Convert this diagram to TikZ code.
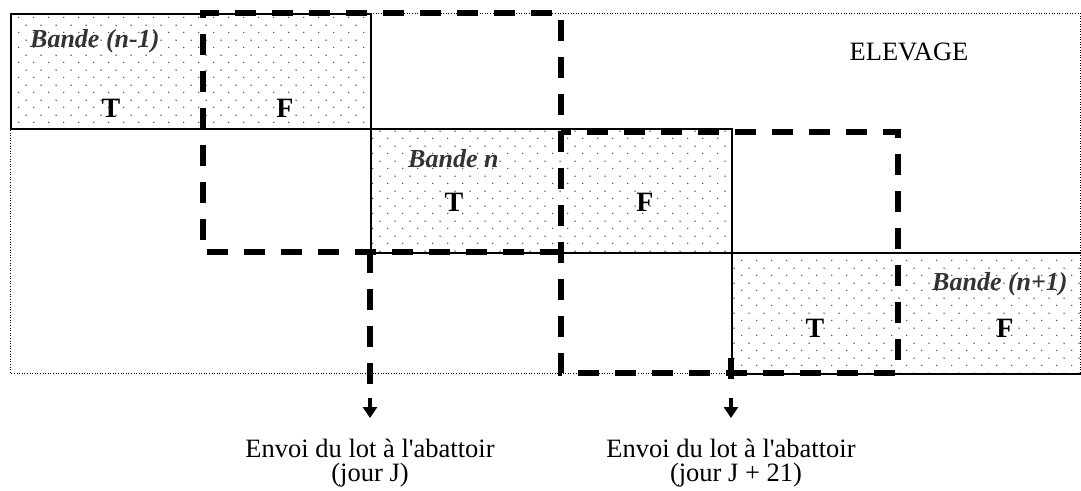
\documentclass[tikz,border=0pt]{standalone}
\usepackage{fontspec}
\setmainfont{Liberation Serif}
\usetikzlibrary{arrows.meta,patterns}
\pgfdeclarepatternformonly{banddots}{\pgfqpoint{0pt}{0pt}}{\pgfqpoint{15.4pt}{15.2pt}}{\pgfqpoint{15.4pt}{15.2pt}}{%
  \pgfpathcircle{\pgfqpoint{3.8pt}{3.8pt}}{0.8pt}%
  \pgfpathcircle{\pgfqpoint{11.5pt}{11.4pt}}{0.8pt}%
  \pgfusepath{fill}}
\definecolor{dotgray}{HTML}{444444}
\definecolor{labgray}{HTML}{333333}
\begin{document}
\begin{tikzpicture}[x=1pt,y=-1pt,
  band/.style={draw=black,line width=2pt,pattern=banddots,pattern color=dotgray,inner sep=0pt,anchor=north west},
  frame/.style={draw=black,line width=1pt,dash pattern=on 1pt off 1.6pt},
  lot/.style={draw=black,line width=5.5pt,dash pattern=on 21pt off 16pt},
  ship/.style={draw=black,line width=4pt,-{Triangle[width=14pt,length=11pt]}},
  txt/.style={font=\fontsize{26.5}{30}\selectfont,inner sep=0pt,anchor=base},
  tf/.style={font=\fontsize{28}{30}\selectfont\bfseries,inner sep=0pt,anchor=base},
  bande/.style={font=\fontsize{26}{30}\selectfont\bfseries\itshape,text=labgray,inner sep=0pt,anchor=base west}]
\useasboundingbox (0,0) rectangle (1081,490);
% outer dotted frame
\draw[frame] (10,13) rectangle (1080,373);
% bands
\node[band,minimum width=360pt,minimum height=115pt] (b1) at (10,13) {};
\node[band,minimum width=361pt,minimum height=124pt] (b2) at (370,128) {};
\node[band,minimum width=352pt,minimum height=121pt] (b3) at (731,252) {};
% labels in bands
\node[bande] (l1) at (30,47) {Bande (n-1)};
\node[bande] (l2) at (408,167) {Bande n};
\node[bande] (l3) at (932,290) {Bande (n+1)};
\node[tf] (t1) at (111,117) {T};
\node[tf] (f1) at (285,117) {F};
\node[tf] (t2) at (454,211) {T};
\node[tf] (f2) at (645,211) {F};
\node[tf] (t3) at (815,337) {T};
\node[tf] (f3) at (1005,337) {F};
\node[txt] (elev) at (909,60) {ELEVAGE};
% dashed lots
\coordinate (asw) at (203,252);
\coordinate (anw) at (203,13);
\coordinate (ane) at (561,13);
\coordinate (ase) at (561,252);
\coordinate (bsw) at (561,373);
\coordinate (bse) at (898,373);
\coordinate (bne) at (898,132);
\coordinate (bnw) at (561,132);
\draw[lot] (ase) -- (asw) -- (anw) -- (ane) -- (bsw) -- (bse) -- (bne) -- (bnw);
% shipments
\coordinate (s1t) at (370,252);
\coordinate (s1m) at (370,384);
\coordinate (s1a) at (370,398);
\coordinate (s1b) at (370,418);
\coordinate (s2t) at (731,358);
\coordinate (s2m) at (731,379);
\coordinate (s2a) at (731,398);
\coordinate (s2b) at (731,418);
\draw[lot] (s1t) -- (s1m);
\draw[lot] (s2t) -- (s2m);
\draw[ship] (s1a) -- (s1b);
\draw[ship] (s2a) -- (s2b);
\node[txt] (e1) at (370,457) {Envoi du lot à l\textquotesingle abattoir};
\node[txt] (j1) at (370,481) {(jour J)};
\node[txt] (e2) at (731,457) {Envoi du lot à l\textquotesingle abattoir};
\node[txt] (j2) at (736,481) {(jour J + 21)};
\end{tikzpicture}
\end{document}
